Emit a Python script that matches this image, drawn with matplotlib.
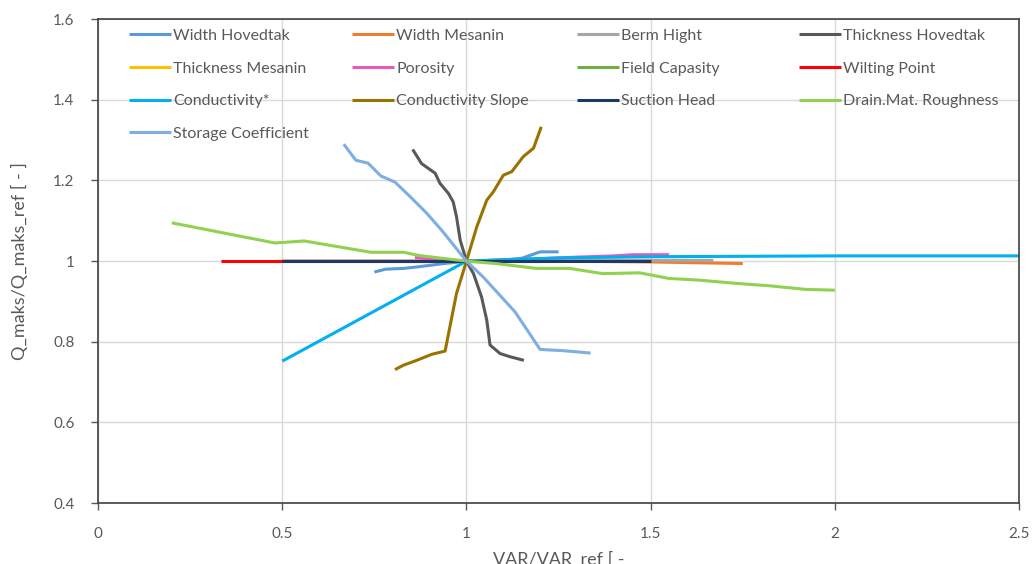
import matplotlib
matplotlib.use("Agg")
import matplotlib.pyplot as plt
from matplotlib.legend import Legend

# series values (x = VAR/VAR_ref, y = Q_maks/Q_maks_ref)
width_hovedtak_x = [0.75, 0.78, 0.83, 0.87, 0.93, 1.0, 1.1, 1.15, 1.2, 1.25]
width_hovedtak_y = [0.973, 0.98, 0.982, 0.986, 0.993, 1.0, 1.003, 1.007, 1.023, 1.023]

width_mesanin_x = [0.5, 0.75, 1.0, 1.25, 1.5, 1.75]
width_mesanin_y = [1.0, 1.0, 1.0, 1.0, 0.998, 0.994]

berm_hight_x = [0.5, 0.75, 1.0, 1.33, 1.67]
berm_hight_y = [1.0, 1.0, 1.0, 1.002, 1.002]

thick_hoved_x = [0.854, 0.878, 0.915, 0.928, 0.951, 0.964, 0.973, 0.983, 1.0,
                 1.019, 1.041, 1.055, 1.064, 1.091, 1.118, 1.156]
thick_hoved_y = [1.277, 1.242, 1.218, 1.193, 1.168, 1.147, 1.11, 1.052, 1.0,
                 0.969, 0.911, 0.854, 0.792, 0.771, 0.763, 0.754]

thick_mesanin_x = [0.8, 1.0, 1.2]
thick_mesanin_y = [1.0, 1.0, 1.0]

porosity_x = [0.86, 0.9, 1.0, 1.1, 1.2, 1.3, 1.4, 1.45, 1.55]
porosity_y = [1.009, 1.005, 1.0, 1.003, 1.006, 1.01, 1.013, 1.016, 1.016]

field_cap_x = [0.8, 1.0, 1.2]
field_cap_y = [1.0, 1.0, 1.0]

wilting_x = [0.333, 0.667, 1.0]
wilting_y = [1.0, 1.0, 1.0]

cond_x = [0.5, 1.0, 1.25, 1.5, 2.0, 2.5]
cond_y = [0.752, 1.0, 1.008, 1.011, 1.013, 1.013]

cond_slope_x = [0.806, 0.829, 0.865, 0.906, 0.942, 0.955, 0.973, 1.0, 1.028, 1.055,
                1.073, 1.1, 1.123, 1.154, 1.182, 1.203]
cond_slope_y = [0.731, 0.742, 0.754, 0.769, 0.777, 0.837, 0.92, 1.0, 1.085, 1.151,
                1.172, 1.213, 1.222, 1.259, 1.28, 1.333]

suction_x = [0.5, 0.75, 1.0, 1.25, 1.5]
suction_y = [1.001, 1.001, 1.001, 1.001, 1.001]

drain_x = [0.2, 0.48, 0.56, 0.74, 0.83, 0.87, 1.0, 1.08, 1.19, 1.28, 1.37, 1.47,
           1.55, 1.63, 1.73, 1.82, 1.92, 2.0]
drain_y = [1.095, 1.045, 1.05, 1.022, 1.022, 1.014, 1.0, 0.994, 0.982, 0.982, 0.969,
           0.971, 0.957, 0.953, 0.945, 0.939, 0.93, 0.928]

storage_x = [0.667, 0.70, 0.733, 0.768, 0.806, 0.847, 0.892, 0.936, 1.0, 1.045,
             1.132, 1.2, 1.262, 1.337]
storage_y = [1.29, 1.25, 1.243, 1.211, 1.196, 1.16, 1.119, 1.073, 1.0, 0.961,
             0.874, 0.781, 0.778, 0.772]

series = [
    ("Width Hovedtak", width_hovedtak_x, width_hovedtak_y, "#5B9BD5"),
    ("Width Mesanin", width_mesanin_x, width_mesanin_y, "#ED7D31"),
    ("Berm Hight", berm_hight_x, berm_hight_y, "#A5A5A5"),
    ("Thickness Hovedtak", thick_hoved_x, thick_hoved_y, "#595959"),
    ("Thickness Mesanin", thick_mesanin_x, thick_mesanin_y, "#FFC000"),
    ("Porosity", porosity_x, porosity_y, "#E75BBE"),
    ("Field Capasity", field_cap_x, field_cap_y, "#70AD47"),
    ("Wilting Point", wilting_x, wilting_y, "#FF0000"),
    ("Conductivity*", cond_x, cond_y, "#00B0F0"),
    ("Conductivity Slope", cond_slope_x, cond_slope_y, "#997300"),
    ("Suction Head", suction_x, suction_y, "#1F3864"),
    ("Drain.Mat. Roughness", drain_x, drain_y, "#92D050"),
    ("Storage Coefficient", storage_x, storage_y, "#7FAEE0"),
]

plt.rcParams['font.family'] = ['Lato', 'DejaVu Sans']
grey = "#595959"

fig = plt.figure(figsize=(10.32, 5.64), dpi=100)
ax = fig.add_axes([0.095, 0.108, 0.8925, 0.858])

lines = []
for name, xs, ys, c in series:
    ln, = ax.plot(xs, ys, color=c, lw=2.2, label=name, solid_capstyle='butt')
    lines.append(ln)

ax.set_xlim(0, 2.5)
ax.set_ylim(0.4, 1.6)
ax.set_xticks([0, 0.5, 1, 1.5, 2, 2.5])
ax.set_xticklabels(["0", "0.5", "1", "1.5", "2", "2.5"])
ax.set_yticks([0.4, 0.6, 0.8, 1.0, 1.2, 1.4, 1.6])
ax.set_yticklabels(["0.4", "0.6", "0.8", "1", "1.2", "1.4", "1.6"])
ax.grid(True, color="#D9D9D9", lw=1)
ax.set_axisbelow(True)
for s in ax.spines.values():
    s.set_color("#404040")
    s.set_linewidth(1.2)
ax.tick_params(labelsize=11, colors=grey, length=5, width=1)
ax.tick_params(axis='x', pad=12)
ax.tick_params(axis='y', pad=12)

ax.set_ylabel("Q_maks/Q_maks_ref [ - ]", fontsize=13, color=grey, labelpad=18)
fig.text(0.5 * (0.095 + 0.9875), 1 - 552 / 564, "VAR/VAR_ref [ -", fontsize=13,
         color=grey, ha='center', va='top')

# legend: 4 evenly spaced columns filled row by row, like the Excel legend
col_x = [0.022, 0.264, 0.508, 0.749]
for k in range(4):
    idx = list(range(k, len(lines), 4))
    leg = Legend(ax, [lines[i] for i in idx], [series[i][0] for i in idx],
                 loc='upper left', bbox_to_anchor=(col_x[k], 1.003), frameon=False,
                 fontsize=11.5, handlelength=2.6, handletextpad=0.15,
                 labelspacing=1.15, labelcolor=grey, borderaxespad=0.3)
    ax.add_artist(leg)

fig.savefig("out.png", dpi=100)
